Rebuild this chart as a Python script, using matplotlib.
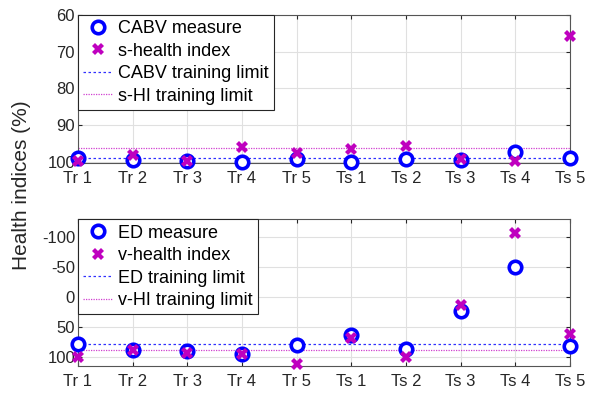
import matplotlib
matplotlib.use("Agg")
import matplotlib.pyplot as plt
from matplotlib.lines import Line2D

categories = ["Tr 1", "Tr 2", "Tr 3", "Tr 4", "Tr 5", "Ts 1", "Ts 2", "Ts 3", "Ts 4", "Ts 5"]

cabv_measure = [98.9, 99.4, 99.7, 99.9, 99.2, 99.9, 99.2, 99.4, 97.4, 99.0]
s_health = [99.7, 98.0, 99.7, 96.0, 97.6, 96.5, 95.6, 99.2, 99.7, 65.7]
cabv_limit = 99.0
shi_limit = 96.2

ed_measure = [77.7, 87.7, 90.0, 94.4, 78.9, 62.8, 85.5, 22.4, -50.2, 80.6]
v_health = [100.0, 87.7, 92.7, 95.0, 111.0, 67.8, 100.0, 12.0, -107.7, 61.0]
ed_limit = 78.4
vhi_limit = 88.3

top_yticks = [60, 70, 80, 90, 100]
bot_yticks = [-100, -50, 0, 50, 100]

plt.rcParams['font.family'] = ['Liberation Sans', 'DejaVu Sans']
plt.rcParams['axes.unicode_minus'] = False
BLUE = '#0000ff'
MAG = '#bf00bf'

fig = plt.figure(figsize=(5.9, 3.93), dpi=100)
ax1 = fig.add_axes([0.132, 0.585, 0.834, 0.377])
ax2 = fig.add_axes([0.132, 0.069, 0.834, 0.373])

x = list(range(1, len(categories) + 1))

def draw(ax, meas, hi, lim1, lim2, labels, ylim, yticks):
    ax.plot(x, meas, linestyle='none', marker='o', markersize=9, markeredgewidth=2.6,
            markeredgecolor=BLUE, markerfacecolor='white', clip_on=False, zorder=3)
    ax.plot(x, hi, linestyle='none', marker='X', markersize=9, markeredgewidth=0,
            color=MAG, clip_on=False, zorder=4)
    ax.axhline(lim1, color='#3030ff', linestyle=(0, (2, 2)), linewidth=0.9, zorder=2)
    ax.axhline(lim2, color='#d040d0', linestyle=(0, (1, 1)), linewidth=0.9, zorder=2)
    ax.set_xlim(1, 10)
    ax.set_ylim(ylim)
    ax.set_yticks(yticks)
    ax.set_xticks(x)
    ax.set_xticklabels(categories)
    ax.grid(True, color='#e0e0e0', linewidth=0.8)
    ax.set_axisbelow(True)
    for s in ax.spines.values():
        s.set_color('#555555')
        s.set_linewidth(0.8)
    ax.tick_params(axis='both', labelsize=12, colors='#262626', direction='in', length=3,
                   pad=2, right=True, top=True)
    ax.tick_params(axis='x', pad=6)
    handles = [
        Line2D([], [], linestyle='none', marker='o', markersize=9, markeredgewidth=2.6,
               markeredgecolor=BLUE, markerfacecolor='white'),
        Line2D([], [], linestyle='none', marker='X', markersize=9, markeredgewidth=0, color=MAG),
        Line2D([], [], color='#3030ff', linestyle=(0, (2, 2)), linewidth=0.9),
        Line2D([], [], color='#d040d0', linestyle=(0, (1, 1)), linewidth=0.9),
    ]
    leg = ax.legend(handles, labels, loc='upper left', fontsize=13, frameon=True,
                    fancybox=False, edgecolor='#262626', framealpha=1,
                    borderaxespad=0, handlelength=1.6, handletextpad=0.3,
                    labelspacing=0.3, borderpad=0.3)
    leg.get_frame().set_linewidth(0.8)

draw(ax1, cabv_measure, s_health, cabv_limit, shi_limit,
     ["CABV measure", "s-health index", "CABV training limit", "s-HI training limit"],
     (100.3, 60), top_yticks)
draw(ax2, ed_measure, v_health, ed_limit, vhi_limit,
     ["ED measure", "v-health index", "ED training limit", "v-HI training limit"],
     (114, -130), bot_yticks)

fig.text(0.037, 0.528, "Health indices (%)", rotation=90, ha='center', va='center',
         fontsize=15, color='#262626')

fig.savefig("out.png", dpi=100)
